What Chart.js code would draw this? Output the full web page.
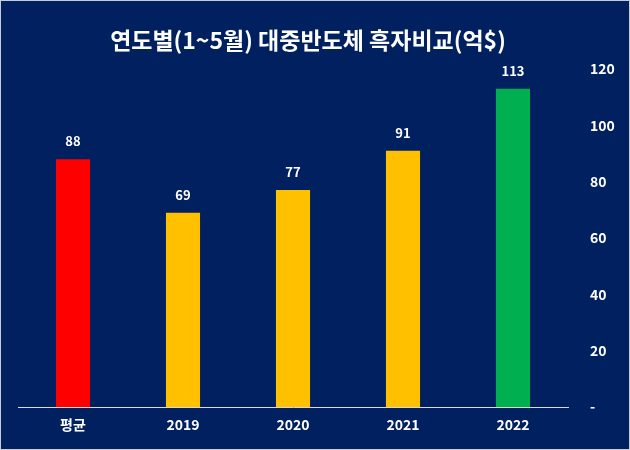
<!DOCTYPE html>
<html>
<head>
<meta charset="utf-8">
<script src="https://cdn.jsdelivr.net/npm/chart.js@4"></script>
<style>
  html, body { margin: 0; padding: 0; background: #ffffff; }
  #wrap {
    width: 630px; height: 450px; box-sizing: border-box;
    border: 1px solid #c9ccd3; background: #002060;
  }
</style>
</head>
<body>
<div id="wrap"><canvas id="chart" width="628" height="448"></canvas></div>
<script>
const categories = ["평균", "2019", "2020", "2021", "2022"];
const surplus = [88, 69, 77, 91, 113];
const barColors = ["#FF0000", "#FFC000", "#FFC000", "#FFC000", "#00B050"];
const yTicks = [0, 20, 40, 60, 80, 100, 120];
const chartTitle = "연도별(1~5월) 대중반도체 흑자비교(억$)";

const FONT = "'Noto Sans CJK KR', 'Noto Sans', sans-serif";

// title drawn by hand so it can sit a bit left of centre, like the original
const titlePlugin = {
    id: "titlePlugin",
    afterDraw(chart) {
        const ctx = chart.ctx;
        ctx.save();
        ctx.fillStyle = "#ffffff";
        ctx.font = "bold 23px " + FONT;
        ctx.textAlign = "center";
        ctx.textBaseline = "middle";
        ctx.fillText(chartTitle, 307, 39);
        ctx.restore();
    }
};

// draws the value above each bar
const valueLabels = {
    id: "valueLabels",
    afterDatasetsDraw(chart) {
        const ctx = chart.ctx;
        const meta = chart.getDatasetMeta(0);
        ctx.save();
        ctx.fillStyle = "#ffffff";
        ctx.font = "bold 13px " + FONT;
        ctx.textAlign = "center";
        ctx.textBaseline = "middle";
        meta.data.forEach((bar, i) => {
            ctx.fillText(String(surplus[i]), bar.x, bar.y - 18);
        });
        ctx.restore();
    }
};

new Chart(document.getElementById("chart"), {
    type: "bar",
    data: {
        labels: categories,
        datasets: [{
            data: surplus,
            backgroundColor: barColors,
            categoryPercentage: 1,
            barPercentage: 0.31
        }]
    },
    options: {
        responsive: false,
        animation: false,
        layout: { padding: { left: 17, right: 0, top: 68, bottom: 0 } },
        plugins: {
            legend: { display: false },
            tooltip: { enabled: false },
            title: { display: false }
        },
        scales: {
            x: {
                grid: { display: false, drawTicks: false },
                border: { display: true, color: "#d9d9d9", width: 1 },
                ticks: {
                    color: "#ffffff",
                    font: { family: FONT, size: 14, weight: "bold" },
                    padding: 9
                },
                afterFit: (scale) => { scale.height = 42; }
            },
            y: {
                position: "right",
                min: 0,
                max: 120,
                grid: { display: false, drawTicks: false },
                border: { display: false },
                afterBuildTicks: (scale) => {
                    scale.ticks = yTicks.map(v => ({ value: v }));
                },
                ticks: {
                    color: "#ffffff",
                    font: { family: FONT, size: 14, weight: "bold" },
                    padding: 22,
                    callback: (v) => v === 0 ? "-" : v
                },
                afterFit: (scale) => { scale.width = 61; }
            }
        }
    },
    plugins: [valueLabels, titlePlugin]
});
</script>
</body>
</html>
